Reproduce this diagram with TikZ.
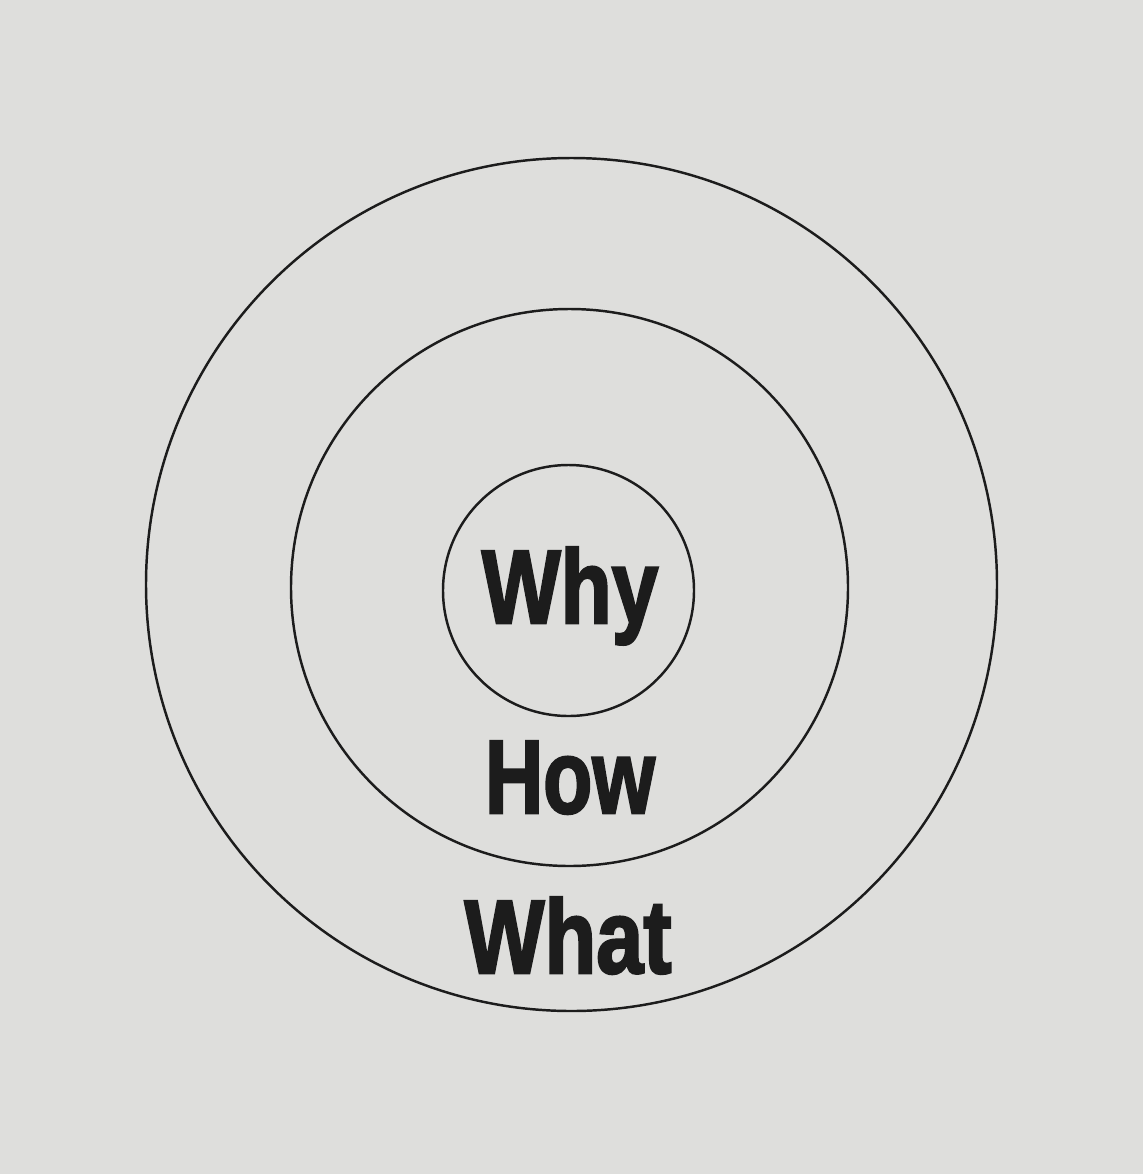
\documentclass[tikz,border=0pt]{standalone}
\usepackage{fontspec}
\setmainfont{Liberation Sans}
\newfontfamily\heavyfont[FakeBold=2.5]{Liberation Sans Bold}
\definecolor{paper}{RGB}{222,222,220}
\definecolor{ink}{RGB}{28,28,28}
\begin{document}
\begin{tikzpicture}[x=0.02cm,y=-0.02cm,
  ring/.style={draw=ink,line width=1.4pt},
  label/.style={text=ink,anchor=base,inner sep=0pt,font=\fontsize{59.5}{60}\heavyfont}]
\fill[paper] (0,0) rectangle (1143,1174);
\useasboundingbox (0,0) rectangle (1143,1174);
\draw[ring] (571.5,584.5) ellipse [x radius=425.5, y radius=426.5];
\draw[ring] (569.5,587.5) circle [radius=278.5];
\draw[ring] (568.5,590.5) circle [radius=125.5];
\node[label] (why) at (570,623) {\scalebox{0.8}[1]{Why}};
\node[label] (how) at (570,813) {\scalebox{0.77}[1]{How}};
\node[label] (what) at (568,973) {\scalebox{0.81}[1]{What}};
\end{tikzpicture}
\end{document}
